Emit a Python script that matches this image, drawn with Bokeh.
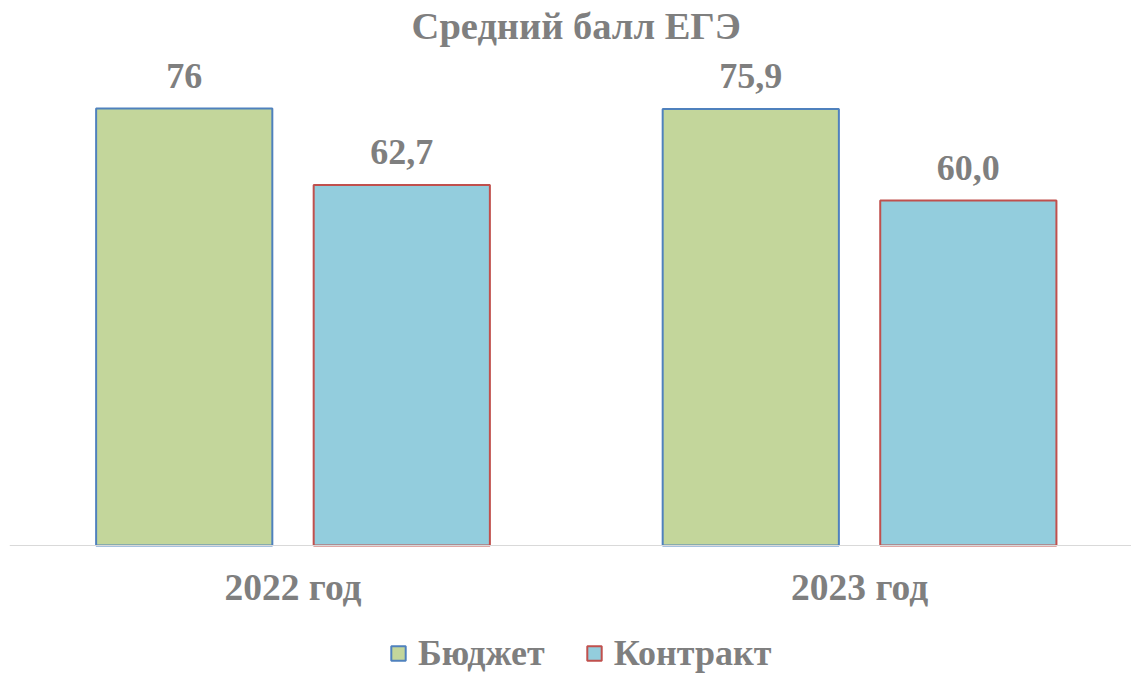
from bokeh.plotting import figure
from bokeh.models import Range1d, Legend, LegendItem, ColumnDataSource, Span, Label
from bokeh.embed import file_html
from bokeh.resources import INLINE
from bokeh.core.properties import value
import numpy as np

title_text = "Средний балл ЕГЭ"
categories = ["2022 год", "2023 год"]
budget = [76.0, 75.9]
contract = [62.7, 60.0]
budget_labels = ["76", "75,9"]
contract_labels = ["62,7", "60,0"]
series_names = ["Бюджет", "Контракт"]

FONT = "Liberation Serif"
GRAY = "#7f7f7f"

xs = np.arange(len(categories))
off = 0.192
bw = 0.311
PX = 5.75  # pixels per unit

p = figure(frame_width=1122, frame_height=675, output_backend="svg", toolbar_location=None,
           x_range=Range1d(-0.5004, 1.480), y_range=Range1d(-130 / PX, 545 / PX),
           min_border_left=9, min_border_right=0, min_border_top=0, min_border_bottom=0)
p.axis.visible = False
p.grid.visible = False
p.outline_line_color = None

p.add_layout(Span(location=0, dimension="width", line_color="#d9d9d9", line_width=1))

src_b = ColumnDataSource(dict(x=xs - off, top=budget, lab=budget_labels))
src_c = ColumnDataSource(dict(x=xs + off, top=contract, lab=contract_labels))

rb = p.vbar(x="x", top="top", width=bw, source=src_b, fill_color="#c3d69b",
            line_color="#4f81bd", line_width=2)
rc = p.vbar(x="x", top="top", width=bw, source=src_c, fill_color="#93cddd",
            line_color="#c0504d", line_width=2)

for s in (src_b, src_c):
    p.text(x="x", y="top", text="lab", source=s, text_font=value(FONT),
           text_font_style="bold", text_font_size="36px", text_color=GRAY,
           text_align="center", text_baseline="middle", y_offset=-33)

cat_src = ColumnDataSource(dict(x=xs, y=np.zeros(len(xs)), lab=categories))
p.text(x="x", y="y", text="lab", source=cat_src, text_font=value(FONT),
       text_font_style="bold", text_font_size="37.5px", text_color=GRAY,
       text_align="center", text_baseline="middle", y_offset=42)

p.add_layout(Label(x=float(np.mean(xs)), y=(545 - 25) / PX, text=title_text,
                   text_font=FONT, text_font_style="bold", text_font_size="38.5px",
                   text_color=GRAY, text_align="center", text_baseline="middle"))

legend = Legend(items=[LegendItem(label=series_names[0], renderers=[rb]),
                       LegendItem(label=series_names[1], renderers=[rc])],
                orientation="horizontal", location=(380, 1))
legend.label_text_font = FONT
legend.label_text_font_style = "bold"
legend.label_text_font_size = "36px"
legend.label_text_color = GRAY
legend.glyph_width = 18
legend.glyph_height = 18
legend.label_standoff = 11
legend.spacing = 40
legend.border_line_color = None
legend.background_fill_alpha = 0
legend.padding = 0
legend.margin = 0
p.add_layout(legend, "center")

open("out.html", "w").write(file_html(p, INLINE))
